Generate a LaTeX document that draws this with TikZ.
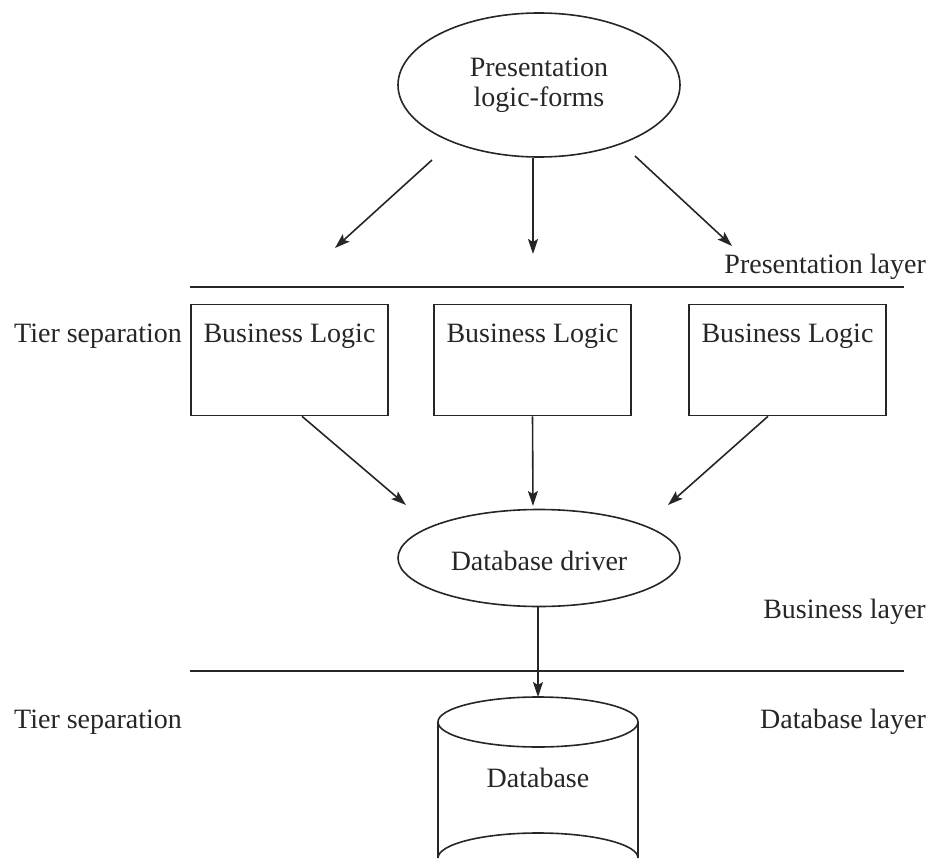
\documentclass[tikz,border=0pt]{standalone}
\usepackage{fontspec}
\setmainfont{Liberation Serif}
\usetikzlibrary{arrows.meta,shapes.geometric}
\begin{document}
\begin{tikzpicture}[x=1pt,y=-1pt,
  every node/.style={font=\fontsize{28}{30}\selectfont, text=black!85},
  ln/.style={line width=1.6pt, draw=black!85},
  arr/.style={ln, -{Stealth[length=15pt,width=10pt,inset=3pt]}},
  ell/.style={ellipse, ln, inner sep=0pt},
  box/.style={rectangle, ln, minimum width=197pt, minimum height=111pt, inner sep=0pt},
  lbl/.style={anchor=base, inner sep=0pt}]
\clip (0,0) rectangle (937,867);
\useasboundingbox (0,0) rectangle (937,867);
% top ellipse
\node[ell, minimum width=282pt, minimum height=144pt, align=center] (pres) at (539,85) {Presentation\\logic-forms};
\coordinate (p1s) at (432,160); \coordinate (p1e) at (335,248);
\coordinate (p2s) at (533,158); \coordinate (p2e) at (533,254);
\coordinate (p3s) at (635,156); \coordinate (p3e) at (732,246);
\draw[arr] (p1s) -- (p1e);
\draw[arr] (p2s) -- (p2e);
\draw[arr] (p3s) -- (p3e);
% separation line 1
\coordinate (l1a) at (190,287); \coordinate (l1b) at (904,287);
\draw[ln] (l1a) -- (l1b);
\node[lbl, anchor=base east] (playr) at (926,273) {Presentation layer};
\node[lbl, anchor=base west] (tier1) at (14,342) {Tier separation};
% boxes
\node[box] (b1) at (289.5,360) {};
\node[box] (b2) at (532.5,360) {};
\node[box] (b3) at (787.5,360) {};
\node[lbl] (t1) at (b1.center |- 0,342) {Business Logic};
\node[lbl] (t2) at (b2.center |- 0,342) {Business Logic};
\node[lbl] (t3) at (b3.center |- 0,342) {Business Logic};
\coordinate (q1) at (406,505); \coordinate (q2) at (533,506); \coordinate (q3) at (668,505);
\draw[arr] (b1.south -| 302,0) -- (q1);
\draw[arr] (b2.south) -- (q2);
\draw[arr] (b3.south -| 768,0) -- (q3);
% driver
\node[ell, minimum width=282pt, minimum height=97pt] (drv) at (539,558) {};
\node[lbl] (drvt) at (539,570) {Database driver};
\node[lbl, anchor=base east] (blayr) at (926,618) {Business layer};
% line 2
\coordinate (l2a) at (190,671); \coordinate (l2b) at (904,671);
\draw[ln] (l2a) -- (l2b);
\node[lbl, anchor=base west] (tier2) at (14,728) {Tier separation};
\node[lbl, anchor=base east] (dlayr) at (926,728) {Database layer};
% database cylinder
\coordinate (dbtop) at (538,697);
\draw[arr] (drv.south -| 538,0) -- (dbtop);
\draw[ln] (538,722) ellipse [x radius=100, y radius=25];
\draw[ln] (438,722) -- (438,858) arc[start angle=180, end angle=360, x radius=100, y radius=25] -- (638,722);
\node[lbl] (db) at (538,787) {Database};
\end{tikzpicture}
\end{document}
